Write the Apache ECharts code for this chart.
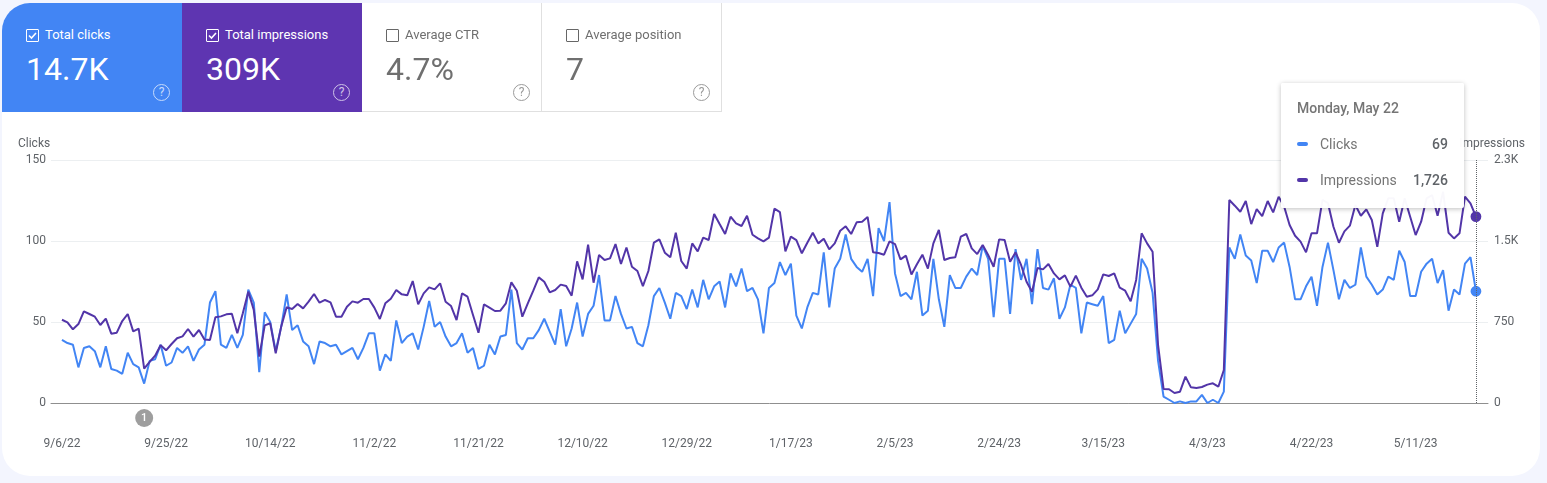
<!DOCTYPE html>
<html>
<head>
<meta charset="utf-8">
<title>Search performance</title>
<script src="https://cdn.jsdelivr.net/npm/echarts@6/dist/echarts.min.js"></script>
<style>
    html, body { margin: 0; padding: 0; width: 1547px; height: 483px; overflow: hidden; background: #f3f5fe; font-family: Roboto, sans-serif; }
    #card { position: absolute; left: 2px; top: 3px; width: 1538px; height: 473px; background: #fff; border-radius: 28px; overflow: hidden; }
    #container01 { position: absolute; left: 0; top: 0; width: 1547px; height: 483px; }
    .tile { position: absolute; top: 3px; width: 180px; height: 109px; box-sizing: border-box; color: #fff; }
    .tile.off { color: #6f6f6f; border-right: 1px solid #e0e0e0; border-bottom: 1px solid #e0e0e0; }
    .tile .box { position: absolute; left: 24px; top: 26px; width: 11px; height: 11px; border: 1px solid currentColor; border-radius: 1px; }
    .tile.off .box { border-color: #666; }
    .tile .box svg { position: absolute; left: 0; top: 0; }
    .tile .label { position: absolute; left: 43px; top: 24px; font-size: 13px; line-height: 16px; white-space: nowrap; }
    .tile .num { position: absolute; left: 24px; top: 47px; font-size: 32px; line-height: 38px; white-space: nowrap; }
    .tile .help { position: absolute; left: 151px; top: 81px; width: 15px; height: 15px; border: 1px solid currentColor; border-radius: 50%; font-size: 12px; line-height: 15px; text-align: center; opacity: .7; }
</style>
</head>
<body>
<div id="card"></div>
<div id="container01"></div>
<div class="tile" style="left:2px;background:#4285f4;border-top-left-radius:28px">
    <div class="box"><svg width="11" height="11" viewBox="0 0 11 11"><path d="M2 5.5 L4.5 8 L9 3" fill="none" stroke="#fff" stroke-width="1.6"/></svg></div>
    <div class="label">Total clicks</div><div class="num">14.7K</div><div class="help">?</div>
</div>
<div class="tile" style="left:182px;background:#5e35b1">
    <div class="box"><svg width="11" height="11" viewBox="0 0 11 11"><path d="M2 5.5 L4.5 8 L9 3" fill="none" stroke="#fff" stroke-width="1.6"/></svg></div>
    <div class="label">Total impressions</div><div class="num">309K</div><div class="help">?</div>
</div>
<div class="tile off" style="left:362px">
    <div class="box"></div>
    <div class="label">Average CTR</div><div class="num">4.7%</div><div class="help">?</div>
</div>
<div class="tile off" style="left:542px">
    <div class="box"></div>
    <div class="label">Average position</div><div class="num">7</div><div class="help">?</div>
</div>
<script>
// 数据:每天一个点,从 9/6/22 到 5/22/23
const clicks = [
    39,37,36,22,34,35,32,22,35,21,
    20,18,31,24,22,12,26,27,36,23,
    25,34,31,35,26,33,36,62,69,36,
    34,42,34,42,70,62,19,56,50,32,
    47,67,45,48,38,35,24,38,37,35,
    36,30,32,34,27,34,43,43,20,30,
    26,51,37,41,43,33,47,63,47,50,
    41,35,37,43,31,34,21,23,36,30,
    41,42,70,37,33,40,40,45,52,44,
    36,58,35,46,62,41,55,60,79,51,
    51,66,55,46,47,37,35,48,66,71,
    62,52,68,66,58,70,59,76,64,72,
    75,59,80,72,83,69,71,64,43,71,
    74,87,79,86,54,46,59,68,67,93,
    59,83,89,104,89,84,81,89,66,108,
    100,124,80,66,68,64,81,54,57,89,
    64,47,79,71,71,78,83,79,97,89,
    53,89,89,55,95,76,89,61,95,71,
    70,77,52,59,73,71,43,62,61,60,
    66,37,39,57,43,49,55,89,83,68,
    26,4,2,0,1,0,1,1,5,0,
    2,0,7,96,89,104,91,88,74,94,
    94,87,96,99,84,64,64,72,78,60,
    84,99,82,64,76,71,73,96,78,73,
    67,70,78,76,94,87,66,66,81,86,
    89,74,82,57,70,67,86,90,69
];
const impressions = [
    771,747,682,731,849,824,799,722,781,642,
    651,759,824,663,688,318,380,438,534,488,
    546,599,617,685,614,676,589,583,793,802,
    821,827,645,830,1031,861,429,719,738,460,
    707,886,870,917,876,938,1009,929,954,932,
    799,799,892,941,929,963,963,883,778,923,
    966,1046,1006,997,1129,913,1015,1071,1052,1108,
    938,898,768,1015,984,815,651,913,883,852,
    855,923,1117,1040,799,923,1040,1163,1123,1025,
    1046,1096,1083,994,1312,1145,1466,1114,1370,1324,
    1339,1472,1287,1440,1262,1222,1083,1222,1484,1515,
    1392,1349,1577,1315,1244,1478,1404,1531,1509,1750,
    1657,1565,1725,1663,1639,1734,1558,1524,1497,1531,
    1799,1768,1404,1540,1509,1386,1484,1577,1478,1521,
    1423,1478,1595,1636,1565,1673,1679,1722,1395,1389,
    1373,1497,1472,1330,1364,1190,1285,1373,1244,1478,
    1602,1324,1342,1349,1540,1565,1432,1379,1463,1370,
    1262,1515,1509,1308,1395,1278,1123,1031,1250,1237,
    1287,1200,1145,1182,1077,1179,1068,984,997,1052,
    1191,1176,1200,1068,1040,941,1139,1571,1478,1401,
    537,130,127,93,105,244,145,139,148,170,
    182,151,306,1879,1827,1771,1870,1657,1796,1731,
    1870,1765,1910,1820,1648,1549,1494,1395,1571,1571,
    1880,1850,1632,1484,1589,1642,1833,1734,1793,1694,
    1447,1756,1895,1895,1679,1895,1725,1555,1679,1895,
    1925,1734,1956,1577,1524,1571,1910,1848,1726
];
const tickLabels = ['9/6/22', '9/25/22', '10/14/22', '11/2/22', '11/21/22', '12/10/22', '12/29/22', '1/17/23', '2/5/23', '2/24/23', '3/15/23', '4/3/23', '4/22/23', '5/11/23'];
const tickDays = [0, 19, 38, 57, 76, 95, 114, 133, 152, 171, 190, 209, 228, 247];
const annotationDay = 15;
const hoverTitle = 'Monday, May 22';

const BLUE = '#4285f4';
const PURPLE = '#5235a8';

const initChart = () => {
    const dom = document.getElementById('container01');
    const myChart = echarts.init(dom, null, { renderer: 'canvas' });
    const lastDay = clicks.length - 1;
    const axisText = { color: '#5f6368', fontSize: 12, fontFamily: 'Roboto' };

    const tipRow = (color, name, value) =>
        '<div style="display:flex;align-items:center;height:36px">' +
        '<span style="width:11px;height:4px;border-radius:2px;background:' + color + ';margin-right:12px"></span>' +
        '<span style="color:#757575;flex:1">' + name + '</span>' +
        '<span style="color:#5f6368;font-weight:500">' + value.toLocaleString('en-US') + '</span></div>';

    const option = {
        animation: false,
        grid: { left: 51, right: 59, top: 160, bottom: 80, outerBoundsMode: 'none' },
        tooltip: {
            trigger: 'axis',
            alwaysShowContent: true,
            transitionDuration: 0,
            position: [1281, 83],
            confine: false,
            padding: 0,
            borderWidth: 0,
            backgroundColor: 'rgba(255,255,255,0.97)',
            extraCssText: 'width:183px;height:125px;border-radius:2px;box-shadow:0 1px 5px rgba(0,0,0,0.25);',
            axisPointer: { type: 'line', lineStyle: { color: '#5f6368', type: 'dotted', width: 1 } },
            formatter: (params) =>
                '<div style="box-sizing:border-box;padding:15px 16px 0 16px;font-family:Roboto;font-size:14px;line-height:18px">' +
                '<div style="color:#757575;font-size:14px;font-weight:500;height:25px;line-height:20px;margin-bottom:3px">' + hoverTitle + '</div>' +
                tipRow(BLUE, params[0].seriesName, params[0].value[1]) +
                tipRow(PURPLE, params[1].seriesName, params[1].value[1]) +
                '</div>'
        },
        xAxis: {
            type: 'value',
            min: -2,
            max: 260.2,
            splitLine: { show: false },
            axisTick: { show: false },
            axisLine: { show: true, onZero: false, lineStyle: { color: '#8f8f8f', width: 1 } },
            axisLabel: {
                ...axisText,
                margin: 35,
                customValues: tickDays,
                showMinLabel: true,
                formatter: (v) => tickLabels[tickDays.indexOf(v)]
            }
        },
        yAxis: [
            {
                type: 'value',
                min: 0,
                max: 150,
                interval: 50,
                name: 'Clicks',
                nameLocation: 'end',
                nameGap: 10,
                nameTextStyle: { ...axisText, align: 'left', padding: [0, 0, 0, -44] },
                axisLine: { show: false },
                axisTick: { show: false },
                axisLabel: { ...axisText, margin: 5, padding: [4, 0, 0, 0] },
                splitLine: { lineStyle: { color: '#eceff1', width: 1 } }
            },
            {
                type: 'value',
                min: 0,
                max: 2250,
                interval: 750,
                name: 'Impressions',
                nameLocation: 'end',
                nameGap: 10,
                nameTextStyle: { ...axisText, align: 'right', padding: [0, -37, 0, 0] },
                axisLine: { show: false },
                axisTick: { show: false },
                axisLabel: {
                    ...axisText,
                    margin: 6,
                    padding: [4, 0, 0, 0],
                    formatter: (v) => (v >= 1000 ? (v / 1000).toFixed(1) + 'K' : String(v))
                },
                splitLine: { show: false }
            }
        ],
        series: [
            {
                name: 'Clicks',
                type: 'line',
                yAxisIndex: 0,
                z: 3,
                showSymbol: false,
                symbolSize: 8,
                itemStyle: { color: BLUE },
                lineStyle: { color: BLUE, width: 2 },
                emphasis: { disabled: true },
                data: clicks.map((v, i) => [i, v]),
                markPoint: {
                    symbol: 'circle',
                    symbolSize: 8,
                    silent: true,
                    label: { show: false },
                    itemStyle: { color: BLUE },
                    data: [{ coord: [lastDay, clicks[lastDay]] }]
                }
            },
            {
                name: 'Impressions',
                type: 'line',
                yAxisIndex: 1,
                z: 4,
                showSymbol: false,
                symbolSize: 8,
                itemStyle: { color: PURPLE },
                lineStyle: { color: PURPLE, width: 2 },
                emphasis: { disabled: true },
                data: impressions.map((v, i) => [i, v]),
                markPoint: {
                    symbol: 'circle',
                    symbolSize: 8,
                    silent: true,
                    label: { show: false },
                    itemStyle: { color: PURPLE },
                    data: [{ coord: [lastDay, impressions[lastDay]] }]
                }
            }
        ]
    };

    myChart.setOption(option);

    // 日期注释标记,放在 x 轴下方
    myChart.setOption({
        graphic: [{
            type: 'group',
            x: myChart.convertToPixel({ xAxisIndex: 0 }, annotationDay),
            y: 418,
            children: [
                { type: 'circle', shape: { r: 9 }, style: { fill: '#9e9e9e' } },
                { type: 'text', style: { text: '1', fill: '#fff', font: '500 11px Roboto', align: 'center', verticalAlign: 'middle' } }
            ]
        }]
    });

    myChart.dispatchAction({ type: 'showTip', seriesIndex: 0, dataIndex: lastDay });
};

initChart();
</script>
</body>
</html>
